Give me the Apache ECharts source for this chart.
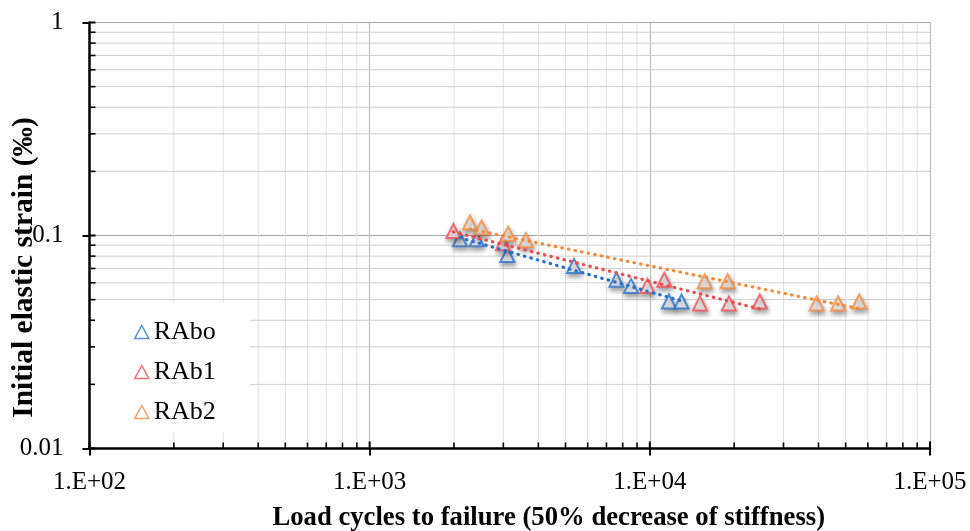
<!DOCTYPE html>
<html>
<head>
<meta charset="utf-8">
<script src="https://cdn.jsdelivr.net/npm/echarts@6/dist/echarts.min.js"></script>
<style>
html,body{margin:0;padding:0;background:#fff;}
#chart{width:970px;height:531px;}
</style>
</head>
<body>
<div id="chart"></div>
<script>
// ---- data ----
const seriesNames = ['RAbo', 'RAb1', 'RAb2'];
const raboX = [2100, 2410, 3100, 5360, 7600, 8570, 11700, 12970];
const raboY = [0.096, 0.096, 0.081, 0.072, 0.062, 0.058, 0.049, 0.049];
const rab1X = [1990, 2990, 9800, 11260, 15100, 19150, 24700];
const rab1Y = [0.105, 0.092, 0.058, 0.062, 0.048, 0.048, 0.049];
const rab2X = [2280, 2510, 3120, 3610, 15700, 18950, 39400, 47000, 55900];
const rab2Y = [0.115, 0.109, 0.102, 0.095, 0.061, 0.061, 0.048, 0.048, 0.049];
// trend line end points
const raboTrendX = [2100, 12970];
const raboTrendY = [0.0976, 0.0493];
const rab1TrendX = [1990, 24700];
const rab1TrendY = [0.104, 0.0452];
const rab2TrendX = [2280, 55900];
const rab2TrendY = [0.1073, 0.0453];
// axis ticks
const xMajor = [100, 1000, 10000, 100000];
const xTickLabels = ['1.E+02', '1.E+03', '1.E+04', '1.E+05'];
const xMinor = [200,300,400,500,600,700,800,900,2000,3000,4000,5000,6000,7000,8000,9000,20000,30000,40000,50000,60000,70000,80000,90000];
const yMajor = [0.01, 0.1, 1];
const yTickLabels = ['0.01', '0.1', '1'];
const yMinor = [0.02,0.03,0.04,0.05,0.06,0.07,0.08,0.09,0.2,0.3,0.4,0.5,0.6,0.7,0.8,0.9];

const colors = ['#2A74CC', '#F24E55', '#F98B3E'];
const FONT = 'Liberation Serif';
const xMin = 100, xMax = 100000, yMin = 0.01, yMax = 1;

const zip = (a, b) => a.map((v, i) => [v, b[i]]);

function scatter(name, xs, ys, color) {
  return {
    name: name, type: 'scatter', data: zip(xs, ys), z: 3,
    symbol: 'triangle', symbolSize: [14, 14],
    itemStyle: {
      color: '#fff', borderColor: color, borderWidth: 2,
      shadowBlur: 5, shadowColor: 'rgba(0,0,0,0.45)', shadowOffsetX: 1, shadowOffsetY: 3
    }
  };
}
function trend(name, xs, ys, color) {
  return {
    name: name, type: 'line', data: zip(xs, ys), z: 4,
    symbol: 'none', silent: true,
    lineStyle: { color: color, width: 3.2, type: [0.5, 6.2], cap: 'round' }
  };
}

const chart = echarts.init(document.getElementById('chart'));

const option = {
  animation: false,
  backgroundColor: '#fff',
  grid: { left: 89.5, right: 40, top: 22.5, bottom: 82.5, containLabel: false, outerBoundsMode: 'none' },
  legend: {
    orient: 'vertical',
    left: 95, top: 303,
    padding: [16, 34, 7, 39],
    backgroundColor: '#fff',
    itemWidth: 14, itemHeight: 13, itemGap: 14,
    textStyle: { fontFamily: FONT, fontSize: 26, color: '#000' },
    data: seriesNames.map((n, i) => ({
      name: n, icon: 'triangle',
      itemStyle: { color: '#fff', borderColor: colors[i], borderWidth: 1.5, shadowBlur: 0, shadowOffsetX: 0, shadowOffsetY: 0, shadowColor: 'transparent' }
    }))
  },
  xAxis: {
    type: 'log', logBase: 10, min: xMin, max: xMax,
    name: 'Load cycles to failure (50% decrease of stiffness)',
    nameLocation: 'middle', nameGap: 56, nameMoveOverlap: false,
    nameTextStyle: { fontFamily: FONT, fontSize: 26.7, fontWeight: 'bold', color: '#000', padding: [0, 0, 0, 78] },
    axisLine: { lineStyle: { color: '#000', width: 2.5 } },
    axisTick: { show: true, inside: false, length: 7, lineStyle: { color: '#000', width: 2 } },
    axisLabel: {
      fontFamily: FONT, fontSize: 25, color: '#000', margin: 21,
      formatter: v => xTickLabels[xMajor.findIndex(m => Math.abs(m - v) / m < 1e-6)] || ''
    },
    splitLine: { show: true, lineStyle: { color: '#bdbdbd', width: 1.2 } }
  },
  yAxis: {
    type: 'log', logBase: 10, min: yMin, max: yMax,
    name: 'Initial elastic strain (‰)',
    nameLocation: 'middle', nameGap: 50, nameMoveOverlap: false,
    nameTextStyle: { fontFamily: FONT, fontSize: 29.5, fontWeight: 'bold', color: '#000', padding: [0, 64, 0, 0] },
    axisLine: { lineStyle: { color: '#000', width: 2.5 } },
    axisTick: { show: true, inside: false, length: 7, lineStyle: { color: '#000', width: 2 } },
    axisLabel: {
      fontFamily: FONT, fontSize: 25, color: '#000', margin: 26,
      formatter: v => yTickLabels[yMajor.findIndex(m => Math.abs(m - v) / m < 1e-6)] || ''
    },
    splitLine: { show: true, lineStyle: { color: '#a6a6a6', width: 1.2 } }
  },
  series: [
    {
      name: 'xMinorGrid', type: 'custom', z: 1, silent: true, clip: false,
      data: xMinor.map(v => [v, yMin]),
      renderItem: function (params, api) {
        const v = api.value(0);
        const b = api.coord([v, yMin]);
        const t = api.coord([v, yMax]);
        return { type: 'group', children: [
          { type: 'line', shape: { x1: b[0], y1: t[1], x2: b[0], y2: b[1] - 1.5 }, style: { stroke: '#e0e0e0', lineWidth: 1 } },
          { type: 'line', shape: { x1: b[0], y1: b[1], x2: b[0], y2: b[1] - 6 }, style: { stroke: '#000', lineWidth: 1.6 } }
        ] };
      }
    },
    {
      name: 'yMinorGrid', type: 'custom', z: 1, silent: true, clip: false,
      data: yMinor.map(v => [xMin, v]),
      renderItem: function (params, api) {
        const v = api.value(1);
        const l = api.coord([xMin, v]);
        const r = api.coord([xMax, v]);
        return { type: 'group', children: [
          { type: 'line', shape: { x1: l[0] + 1.5, y1: l[1], x2: r[0], y2: l[1] }, style: { stroke: '#d0d0d0', lineWidth: 1 } },
          { type: 'line', shape: { x1: l[0], y1: l[1], x2: l[0] + 6, y2: l[1] }, style: { stroke: '#000', lineWidth: 1.6 } }
        ] };
      }
    },
    {
      name: 'xMajorInner', type: 'custom', z: 1, silent: true, clip: false,
      data: xMajor.map(v => [v, yMin]),
      renderItem: function (params, api) {
        const b = api.coord([api.value(0), yMin]);
        return { type: 'line', shape: { x1: b[0], y1: b[1], x2: b[0], y2: b[1] - 7 }, style: { stroke: '#000', lineWidth: 2 } };
      }
    },
    {
      name: 'yMajorInner', type: 'custom', z: 1, silent: true, clip: false,
      data: yMajor.map(v => [xMin, v]),
      renderItem: function (params, api) {
        const l = api.coord([xMin, api.value(1)]);
        return { type: 'line', shape: { x1: l[0], y1: l[1], x2: l[0] + 6, y2: l[1] }, style: { stroke: '#000', lineWidth: 2 } };
      }
    },
    scatter('RAbo', raboX, raboY, colors[0]),
    scatter('RAb1', rab1X, rab1Y, colors[1]),
    scatter('RAb2', rab2X, rab2Y, colors[2]),
    trend('RAbo trend', raboTrendX, raboTrendY, '#2370D0'),
    trend('RAb1 trend', rab1TrendX, rab1TrendY, '#EF4B4B'),
    trend('RAb2 trend', rab2TrendX, rab2TrendY, '#F58A32')
  ]
};
chart.setOption(option);
</script>
</body>
</html>
